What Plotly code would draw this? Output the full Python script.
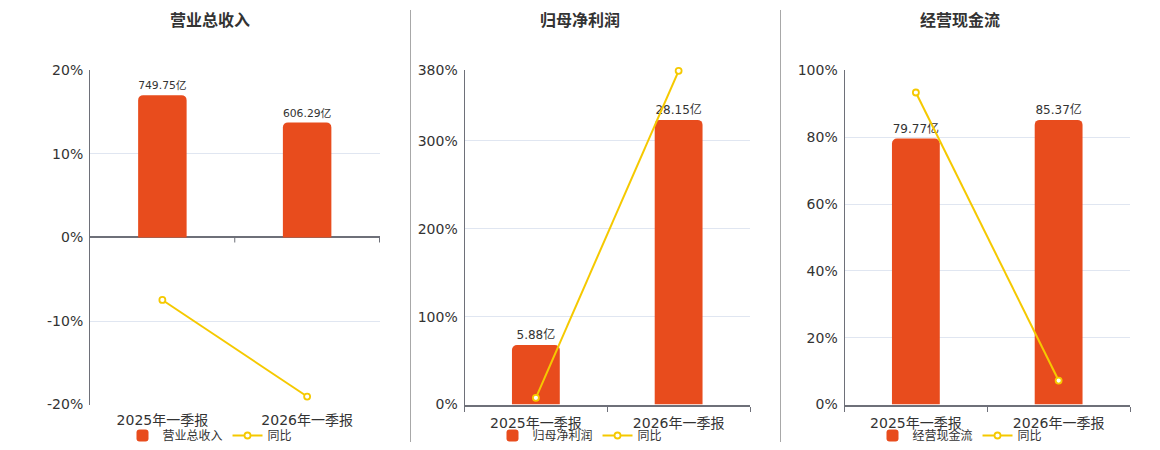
import plotly.graph_objects as go

# ---- data ----
categories = ["2025年一季报", "2026年一季报"]

titles = ["营业总收入", "归母净利润", "经营现金流"]

revenue = [749.75, 606.29]          # 亿
revenue_yoy = [-7.48, -19.04]       # %

profit = [5.88, 28.15]              # 亿
profit_yoy = [7.6, 379.6]           # %

cashflow = [79.77, 85.37]           # 亿
cashflow_yoy = [93.4, 7.18]         # %

yoy_name = "同比"

pct_ticks_1 = [-20, -10, 0, 10, 20]
pct_ticks_2 = [0, 100, 200, 300, 380]
pct_ticks_3 = [0, 20, 40, 60, 80, 100]

# ---- style ----
W, H = 1160, 450
TOP_OFF, EFF_H = 8.0, 434.5   # observed vertical placement of the figure in the page


def py(y_px):
    """screen pixel row -> paper fraction"""
    return 1 - (y_px - TOP_OFF) / EFF_H


BAR_COLOR = "#E84C1D"
LINE_COLOR = "#F5C900"
AXIS_COLOR = "#6E7079"
GRID_COLOR = "#E0E6F1"
TEXT_COLOR = "#333333"
FONT = "DejaVu Sans, Noto Sans CJK SC, sans-serif"

panels = [
    dict(title=titles[0], bars=revenue, yoy=revenue_yoy, ticks=pct_ticks_1,
         pct_range=[-20, 20], sym=True, xdom=[90, 380], center=210),
    dict(title=titles[1], bars=profit, yoy=profit_yoy, ticks=pct_ticks_2,
         pct_range=[0, 380], sym=False, xdom=[464.5, 750], center=580),
    dict(title=titles[2], bars=cashflow, yoy=cashflow_yoy, ticks=pct_ticks_3,
         pct_range=[0, 100], sym=False, xdom=[844.5, 1130], center=960),
]

ydom = [py(405), py(70.5)]

fig = go.Figure()
layout = dict(
    width=W, height=H,
    margin=dict(l=0, r=0, t=0, b=0),
    paper_bgcolor="white", plot_bgcolor="rgba(0,0,0,0)",
    font=dict(family=FONT, size=14, color=TEXT_COLOR),
    barcornerradius=5,
    showlegend=True,
)
annotations = []
shapes = []

for i, p in enumerate(panels):
    n = i + 1
    xa = "x" if n == 1 else f"x{n}"
    ya_bar = "y" if n == 1 else f"y{n}"
    ya_pct = f"y{n + 3}"
    leg = "legend" if n == 1 else f"legend{n}"

    fig.add_trace(go.Bar(
        x=categories, y=p["bars"], name=p["title"],
        marker=dict(color=BAR_COLOR, line=dict(width=0)),
        width=0.335,
        text=[f"{v}亿" for v in p["bars"]], textposition="outside",
        textfont=dict(size=12, color=TEXT_COLOR), cliponaxis=False,
        xaxis=xa, yaxis=ya_bar, legend=leg,
    ))
    fig.add_trace(go.Scatter(
        x=categories, y=p["yoy"], name=yoy_name, mode="lines+markers",
        line=dict(color=LINE_COLOR, width=2),
        marker=dict(symbol="circle", size=6, color="white",
                    line=dict(color=LINE_COLOR, width=1.8)),
        cliponaxis=False,
        xaxis=xa, yaxis=ya_pct, legend=leg,
    ))

    m = max(p["bars"]) / 0.852
    bar_range = [-m, m] if p["sym"] else [0, m]

    layout[f"xaxis{'' if n == 1 else n}"] = dict(
        domain=[p["xdom"][0] / W, p["xdom"][1] / W], anchor=ya_bar,
        type="category", showgrid=False, zeroline=False,
        showline=not p["sym"], linecolor=AXIS_COLOR, linewidth=2,
        ticks="outside", tickson="boundaries", ticklen=5,
        tickcolor=AXIS_COLOR if not p["sym"] else "rgba(0,0,0,0)",
        ticklabelstandoff=5,
        tickfont=dict(size=14, color=TEXT_COLOR), fixedrange=True,
    )
    layout[f"yaxis{'' if n == 1 else n}"] = dict(
        domain=ydom, anchor=xa, range=bar_range, visible=False,
        showgrid=False, zeroline=False, fixedrange=True,
    )
    layout[f"yaxis{n + 3}"] = dict(
        anchor=xa, overlaying=ya_bar, side="left", range=p["pct_range"],
        tickvals=p["ticks"], ticktext=[f"{t}%" for t in p["ticks"]],
        showgrid=True, gridcolor=GRID_COLOR, gridwidth=1,
        zeroline=p["sym"], zerolinecolor=AXIS_COLOR, zerolinewidth=2,
        showline=True, linecolor=AXIS_COLOR, linewidth=1,
        ticks="", ticklabelstandoff=3,
        tickfont=dict(size=14, color=TEXT_COLOR), fixedrange=True,
    )
    layout[leg] = dict(
        orientation="h", x=p["center"] / W, xanchor="center",
        y=py(436), yanchor="middle",
        font=dict(size=12, color=TEXT_COLOR), bgcolor="rgba(0,0,0,0)",
        itemclick=False, itemdoubleclick=False, tracegroupgap=0,
    )
    annotations.append(dict(
        text=p["title"], x=p["center"] / W, y=py(21),
        xref="paper", yref="paper", xanchor="center", yanchor="middle",
        showarrow=False, font=dict(size=16, color=TEXT_COLOR, weight="bold"),
    ))

    if p["sym"]:
        # tick marks on the zero axis line
        for xv in [0.5, 1.5]:
            shapes.append(dict(
                type="line", xref=xa, yref=ya_pct, x0=xv, x1=xv,
                ysizemode="pixel", yanchor=0, y0=0, y1=-5,
                line=dict(color=AXIS_COLOR, width=1),
            ))

# panel dividers
for xd in [410.5, 780.5]:
    shapes.append(dict(
        type="line", xref="paper", yref="paper",
        x0=xd / W, x1=xd / W, y0=max(py(443), 0), y1=py(10),
        line=dict(color="#A8A8A8", width=1),
    ))

layout["annotations"] = annotations
layout["shapes"] = shapes
fig.update_layout(**layout)

fig.write_html(
    "out.html",
    config={"displayModeBar": False},
    post_script="document.body.style.margin='0';document.body.style.overflow='hidden';",
)
